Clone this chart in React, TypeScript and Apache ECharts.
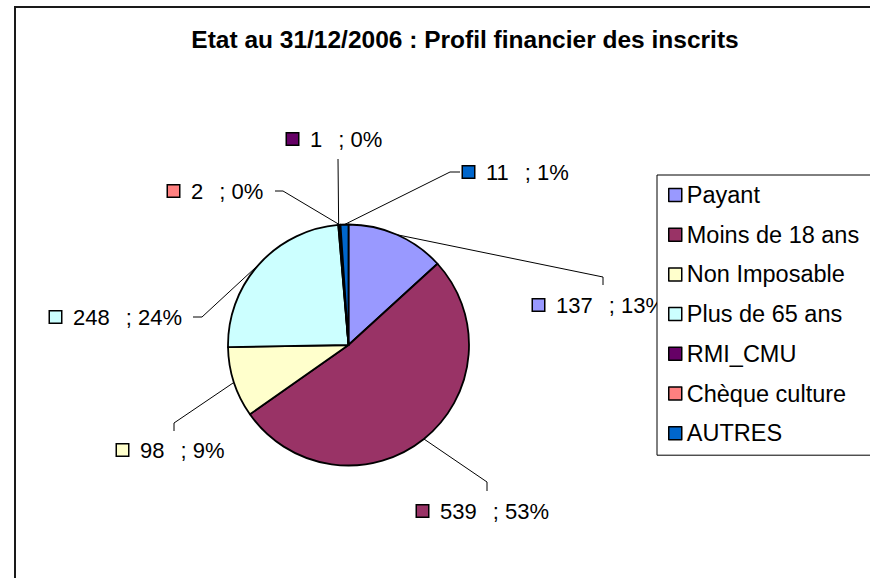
import React, { useEffect, useRef } from 'react';
import * as echarts from 'echarts';

const titleText = 'Etat au 31/12/2006 : Profil financier des inscrits';
const categories = ['Payant', 'Moins de 18 ans', 'Non Imposable', 'Plus de 65 ans', 'RMI_CMU', 'Chèque culture', 'AUTRES'];
const counts = [137, 539, 98, 248, 1, 2, 11];
const percents = [13, 53, 9, 24, 0, 0, 1];

const colors = ['#9999FF', '#993366', '#FFFFCC', '#CCFFFF', '#660066', '#FF8080', '#0066CC'];

// label placement (layout only): [left of key box, vertical centre]
const labelAnchors = [[533, 305], [417, 511], [117, 450], [50, 317], [287, 139], [168, 191], [463, 172]];
const lineElbows = [[603, 277], [487, 482], [174, 423], [202, 317], [338, 159], [283, 191], [450, 172]];
const lineEnds = [[603, 285], [487, 491], [174, 431], [193, 317], [338, 159], [275, 191], [460, 172]];

const PIE_CX = 348.5;
const PIE_CY = 345;
const PIE_R = 120.5;
const FONT = '"Liberation Sans", Arial, Helvetica, sans-serif';

export default function App() {
  const ref = useRef<HTMLDivElement>(null);
  useEffect(() => {
    if (!ref.current) return;
    const chart = echarts.init(ref.current, null, { renderer: 'svg' });
    const total = counts.reduce((a, b) => a + b, 0);
    const rich: Record<string, any> = {
      s: { width: 12, height: 12, verticalAlign: 'middle' },
      g: { width: 16, height: 12, verticalAlign: 'middle' },
      v: { fontSize: 22, fontFamily: FONT, color: '#000', verticalAlign: 'middle', lineHeight: 26 },
    };
    colors.forEach((c, i) => {
      rich['b' + i] = {
        width: 11,
        height: 11,
        backgroundColor: c,
        borderColor: '#000',
        borderWidth: 1.5,
        verticalAlign: 'middle',
      };
    });
    const option: any = {
      animation: false,
      backgroundColor: '#fff',
      title: {
        text: titleText,
        left: 460,
        top: 22,
        textAlign: 'center',
        textStyle: { fontFamily: FONT, fontWeight: 'bold', fontSize: 24.5, color: '#000', lineHeight: 24 },
      },
      graphic: [
        {
          type: 'rect',
          z: -10,
          shape: { x: 15, y: 7, width: 900, height: 620 },
          style: { fill: 'none', stroke: '#1a1a1a', lineWidth: 2 },
        },
      ],
      legend: {
        orient: 'vertical',
        left: 657,
        top: 175,
        padding: [8, 40, 10, 11],
        data: categories,
        icon: 'rect',
        itemWidth: 13,
        itemHeight: 13,
        itemGap: 15.7,
        selectedMode: false,
        backgroundColor: '#fff',
        borderColor: '#000',
        borderWidth: 1,
        itemStyle: { borderColor: '#000', borderWidth: 1.5 },
        textStyle: { fontFamily: FONT, fontSize: 23.5, color: '#000', lineHeight: 24 },
      },
      series: [
        {
          type: 'pie',
          silent: true,
          center: [PIE_CX, PIE_CY],
          radius: PIE_R,
          startAngle: 90,
          clockwise: true,
          avoidLabelOverlap: false,
          itemStyle: { borderColor: '#000', borderWidth: 1.8 },
          label: {
            show: true,
            position: 'outside',
            formatter: (p: any) => {
              const i = p.dataIndex;
              return `{b${i}|}{s|}{v|${counts[i]}}{g|}{v|; ${percents[i]}%}`;
            },
            rich,
          },
          labelLine: { show: true, length: 10, length2: 10, smooth: false, lineStyle: { color: '#000', width: 1 } },
          labelLayout: (params: any) => {
            const i = params.dataIndex;
            let start: number[];
            const pts = params.labelLinePoints;
            if (pts && pts.length) {
              start = pts[0];
            } else {
              let before = 0;
              for (let k = 0; k < i; k++) before += counts[k];
              const mid = ((before + counts[i] / 2) / total) * Math.PI * 2;
              start = [PIE_CX + PIE_R * Math.sin(mid), PIE_CY - PIE_R * Math.cos(mid)];
            }
            return {
              x: labelAnchors[i][0],
              y: labelAnchors[i][1],
              align: 'left',
              verticalAlign: 'middle',
              labelLinePoints: [start, lineElbows[i], lineEnds[i]],
            };
          },
          data: categories.map((name, i) => ({ name, value: counts[i], itemStyle: { color: colors[i] } })),
        },
      ],
    };
    chart.setOption(option);
    return () => chart.dispose();
  }, []);
  return <div ref={ref} style={{ position: 'absolute', left: 0, top: 0, width: 870, height: 578 }} />;
}
